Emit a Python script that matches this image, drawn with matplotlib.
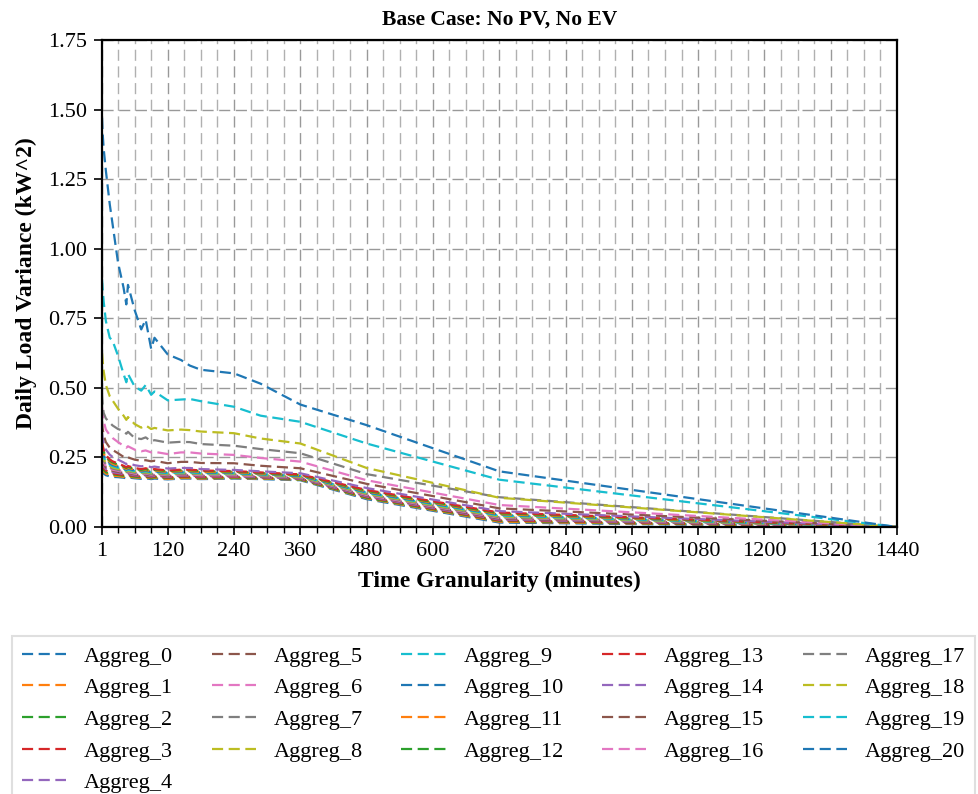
import matplotlib
matplotlib.use("Agg")
import matplotlib.pyplot as plt
from matplotlib.ticker import FixedLocator, MultipleLocator

plt.rcParams['font.family'] = ['Liberation Serif', 'DejaVu Serif']

title = "Base Case: No PV, No EV"
xlabel = "Time Granularity (minutes)"
ylabel = "Daily Load Variance (kW^2)"

granularity = [1, 2, 4, 8, 15, 20, 30, 40, 45, 48, 60, 72, 80, 90, 96, 120, 144, 160, 180, 240, 288, 360, 480, 720, 1440]

aggreg_0 = [0.210, 0.200, 0.192, 0.186, 0.182, 0.180, 0.179, 0.177, 0.175, 0.178, 0.175, 0.173, 0.175, 0.172, 0.174, 0.171, 0.174, 0.174, 0.172, 0.174, 0.172, 0.168, 0.100, 0.016, 0.0]
aggreg_1 = [0.218, 0.207, 0.199, 0.192, 0.187, 0.184, 0.183, 0.180, 0.178, 0.181, 0.178, 0.176, 0.178, 0.175, 0.177, 0.173, 0.176, 0.176, 0.174, 0.176, 0.174, 0.170, 0.103, 0.019, 0.0]
aggreg_2 = [0.225, 0.215, 0.205, 0.197, 0.191, 0.189, 0.187, 0.184, 0.181, 0.184, 0.181, 0.178, 0.181, 0.177, 0.179, 0.176, 0.179, 0.179, 0.177, 0.178, 0.176, 0.171, 0.105, 0.022, 0.0]
aggreg_3 = [0.233, 0.222, 0.212, 0.203, 0.196, 0.193, 0.190, 0.187, 0.184, 0.187, 0.184, 0.181, 0.183, 0.180, 0.182, 0.178, 0.181, 0.181, 0.179, 0.180, 0.178, 0.173, 0.108, 0.024, 0.0]
aggreg_4 = [0.241, 0.229, 0.218, 0.208, 0.201, 0.197, 0.194, 0.190, 0.187, 0.191, 0.186, 0.184, 0.186, 0.182, 0.184, 0.181, 0.184, 0.184, 0.182, 0.182, 0.179, 0.174, 0.110, 0.027, 0.0]
aggreg_5 = [0.248, 0.237, 0.225, 0.214, 0.205, 0.202, 0.198, 0.194, 0.190, 0.194, 0.189, 0.186, 0.189, 0.185, 0.187, 0.183, 0.186, 0.186, 0.184, 0.184, 0.181, 0.176, 0.113, 0.030, 0.0]
aggreg_6 = [0.256, 0.244, 0.232, 0.219, 0.210, 0.206, 0.202, 0.197, 0.193, 0.197, 0.192, 0.189, 0.192, 0.188, 0.190, 0.186, 0.189, 0.189, 0.186, 0.186, 0.183, 0.178, 0.115, 0.033, 0.0]
aggreg_7 = [0.264, 0.251, 0.238, 0.225, 0.215, 0.210, 0.205, 0.200, 0.197, 0.200, 0.195, 0.192, 0.194, 0.190, 0.192, 0.188, 0.191, 0.191, 0.189, 0.189, 0.185, 0.179, 0.118, 0.035, 0.0]
aggreg_8 = [0.272, 0.258, 0.245, 0.230, 0.220, 0.214, 0.209, 0.203, 0.200, 0.203, 0.198, 0.195, 0.197, 0.193, 0.195, 0.191, 0.194, 0.194, 0.191, 0.191, 0.187, 0.181, 0.120, 0.038, 0.0]
aggreg_9 = [0.279, 0.266, 0.252, 0.236, 0.224, 0.219, 0.213, 0.207, 0.203, 0.206, 0.201, 0.197, 0.200, 0.196, 0.198, 0.193, 0.196, 0.196, 0.193, 0.193, 0.189, 0.183, 0.123, 0.041, 0.0]
aggreg_10 = [0.287, 0.273, 0.258, 0.241, 0.229, 0.223, 0.217, 0.210, 0.206, 0.210, 0.203, 0.200, 0.203, 0.198, 0.200, 0.196, 0.199, 0.199, 0.196, 0.195, 0.190, 0.184, 0.125, 0.044, 0.0]
aggreg_11 = [0.295, 0.280, 0.265, 0.247, 0.234, 0.227, 0.220, 0.213, 0.209, 0.213, 0.206, 0.203, 0.205, 0.201, 0.203, 0.198, 0.201, 0.201, 0.198, 0.197, 0.192, 0.186, 0.128, 0.046, 0.0]
aggreg_12 = [0.302, 0.288, 0.271, 0.252, 0.238, 0.232, 0.224, 0.217, 0.212, 0.216, 0.209, 0.205, 0.208, 0.203, 0.205, 0.201, 0.204, 0.204, 0.201, 0.199, 0.194, 0.187, 0.130, 0.049, 0.0]
aggreg_13 = [0.310, 0.295, 0.278, 0.258, 0.243, 0.236, 0.228, 0.220, 0.215, 0.219, 0.212, 0.208, 0.211, 0.206, 0.208, 0.203, 0.206, 0.206, 0.203, 0.201, 0.196, 0.189, 0.133, 0.052, 0.0]
aggreg_14 = [0.340, 0.320, 0.300, 0.278, 0.260, 0.252, 0.242, 0.232, 0.226, 0.230, 0.222, 0.218, 0.220, 0.215, 0.217, 0.210, 0.212, 0.212, 0.208, 0.205, 0.200, 0.193, 0.140, 0.057, 0.0]
aggreg_15 = [0.380, 0.355, 0.330, 0.305, 0.285, 0.277, 0.265, 0.252, 0.246, 0.250, 0.242, 0.238, 0.240, 0.236, 0.238, 0.229, 0.234, 0.234, 0.230, 0.229, 0.220, 0.211, 0.155, 0.067, 0.0]
aggreg_16 = [0.430, 0.410, 0.380, 0.350, 0.330, 0.320, 0.305, 0.292, 0.285, 0.290, 0.278, 0.272, 0.275, 0.268, 0.270, 0.262, 0.268, 0.268, 0.264, 0.259, 0.248, 0.235, 0.168, 0.079, 0.0]
aggreg_17 = [0.480, 0.440, 0.410, 0.390, 0.375, 0.365, 0.352, 0.345, 0.335, 0.342, 0.320, 0.316, 0.322, 0.308, 0.312, 0.303, 0.306, 0.305, 0.298, 0.292, 0.280, 0.265, 0.190, 0.107, 0.0]
aggreg_18 = [0.625, 0.600, 0.560, 0.510, 0.470, 0.455, 0.425, 0.400, 0.385, 0.395, 0.370, 0.357, 0.365, 0.352, 0.356, 0.347, 0.350, 0.348, 0.343, 0.337, 0.318, 0.300, 0.212, 0.105, 0.0]
aggreg_19 = [0.890, 0.860, 0.810, 0.740, 0.680, 0.670, 0.615, 0.550, 0.520, 0.550, 0.505, 0.490, 0.510, 0.475, 0.487, 0.455, 0.458, 0.460, 0.452, 0.432, 0.400, 0.378, 0.300, 0.170, 0.0]
aggreg_20 = [1.470, 1.420, 1.360, 1.280, 1.160, 1.090, 0.950, 0.860, 0.800, 0.870, 0.780, 0.710, 0.745, 0.640, 0.680, 0.620, 0.600, 0.580, 0.565, 0.552, 0.515, 0.440, 0.366, 0.200, 0.0]

series = [aggreg_0, aggreg_1, aggreg_2, aggreg_3, aggreg_4, aggreg_5, aggreg_6,
          aggreg_7, aggreg_8, aggreg_9, aggreg_10, aggreg_11, aggreg_12, aggreg_13,
          aggreg_14, aggreg_15, aggreg_16, aggreg_17, aggreg_18, aggreg_19, aggreg_20]
names = [f"Aggreg_{i}" for i in range(len(series))]

x_ticks = [1, 120, 240, 360, 480, 600, 720, 840, 960, 1080, 1200, 1320, 1440]
y_ticks = [0.00, 0.25, 0.50, 0.75, 1.00, 1.25, 1.50, 1.75]

colors = plt.rcParams['axes.prop_cycle'].by_key()['color']

fig = plt.figure(figsize=(9.79, 7.94), dpi=100)
ax = fig.add_axes([0.1042, 0.3363, 0.8120, 0.6133])

for i, (vals, name) in enumerate(zip(series, names)):
    ax.plot(granularity, vals, linestyle=(0, (5, 2.5)), linewidth=1.6,
            color=colors[i % len(colors)], label=name)

ax.set_xlim(1, 1440)
ax.set_ylim(0, 1.75)
ax.xaxis.set_major_locator(FixedLocator(x_ticks))
ax.xaxis.set_minor_locator(MultipleLocator(30))
ax.set_xticklabels([str(t) for t in x_ticks])
ax.set_yticks(y_ticks)
ax.set_yticklabels([f"{t:.2f}" for t in y_ticks])

ax.grid(True, which='major', axis='both', linestyle=(0, (8, 4)), color='#999999', linewidth=1.0)
ax.grid(True, which='minor', axis='x', linestyle=(0, (8, 4)), color='#b0b0b0', linewidth=1.0)
ax.set_axisbelow(True)

ax.tick_params(axis='both', which='major', direction='out', length=6, width=1.2,
               labelsize=16, colors='black', pad=5)
ax.tick_params(axis='x', which='minor', direction='out', length=4, width=1.0)
for sp in ax.spines.values():
    sp.set_linewidth(1.6)
    sp.set_color('black')

ax.set_title(title, fontsize=15.5, fontweight='bold', pad=11)
ax.set_xlabel(xlabel, fontsize=17, fontweight='bold', labelpad=7)
ax.set_ylabel(ylabel, fontsize=17, fontweight='bold', labelpad=8)

leg = fig.legend(loc='upper left', bbox_to_anchor=(12 / 979, 1 - 636 / 794),
                 borderaxespad=0.0,
                 ncol=5, fontsize=16, frameon=True, fancybox=False,
                 handlelength=2.0, handletextpad=0.8, columnspacing=1.72,
                 labelspacing=0.5, borderpad=0.45)
leg.get_frame().set_edgecolor('#d8d8d8')
leg.get_frame().set_linewidth(1.5)

fig.savefig("out.png", dpi=100)
